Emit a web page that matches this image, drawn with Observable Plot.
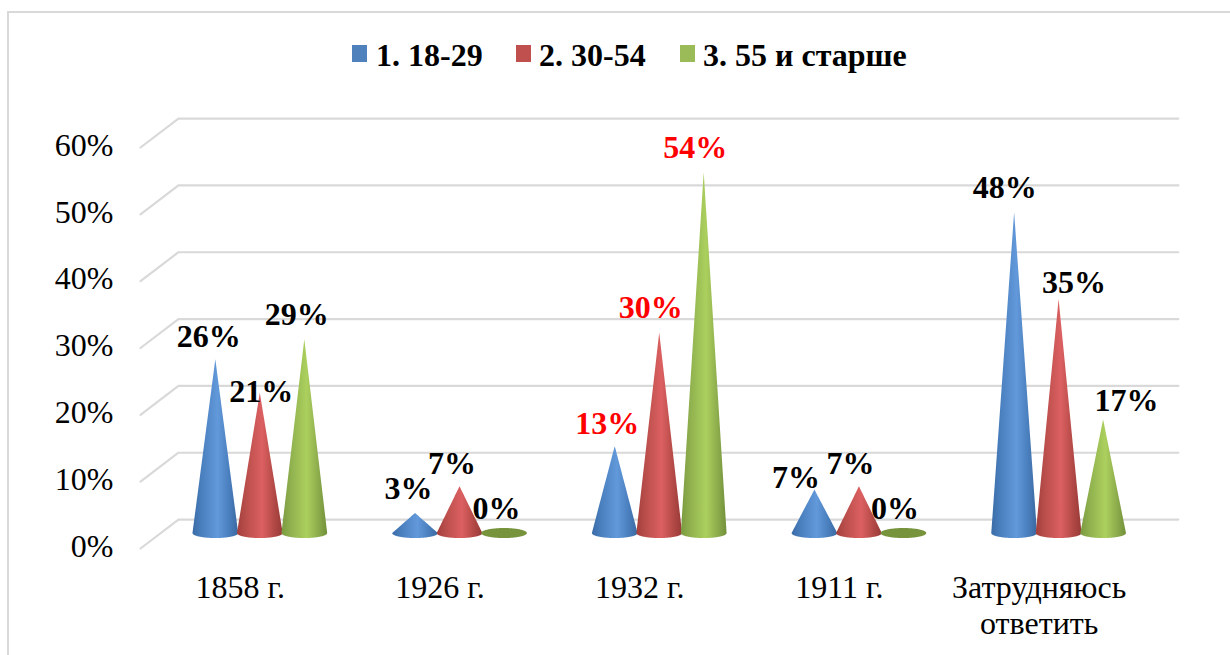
<!DOCTYPE html>
<html><head><meta charset="utf-8">
<script src="https://cdn.jsdelivr.net/npm/d3@7"></script>
<script src="https://cdn.jsdelivr.net/npm/@observablehq/plot@0.6"></script>
<style>
html,body{margin:0;padding:0;background:#fff}
#wrap{position:relative;width:1230px;height:655px;overflow:hidden;font-family:"Liberation Serif",serif}
#frame{position:absolute;left:7px;top:11px;right:-10px;bottom:-10px;border:2px solid #d9d9d9}
#legend{position:absolute;left:0;top:0;width:1230px;height:90px}
#legend span{position:absolute;top:36px;font-weight:bold;font-size:32px;line-height:38px;color:#000;white-space:nowrap}
#legend i{position:absolute;top:45px;width:15px;height:17px}
#chart{position:absolute;left:0;top:90px}
svg{display:block}
</style></head>
<body><div id="wrap"><div id="frame"></div><div id="legend"></div><div id="chart"></div></div>
<script>
const categories = ["1858 г.","1926 г.","1932 г.","1911 г.","Затрудняюсь\nответить"];
const seriesNames = ["1. 18-29","2. 30-54","3. 55 и старше"];
const young  = [26,3,13,6.5,48];
const middle = [21,7,30,7,35];
const older  = [29,0,54,0,17];
const yTicks = [0,10,20,30,40,50,60];
const redLabels = ["1932 г."];

// Presentation only
const seriesValues=[young,middle,older];
const gid=["b","r","g"];
const swatch=["#4f81bd","#c0504d","#9bbb59"];
const flatColor="#77933c";
const legendSwatchX=[352,516,680], legendTextX=[376,539,703];
// label nudges in px from the cone tip [series][category]
const nudgeX=[[-7,-7,-8,-19,-10],[1,-8,-9,-9,15],[-8,-8,-9,-9,23]];
const nudgeY=[[-23,-25,-23,-12,-25],[-1,-23,-25,-23,-17],[-25,-25,-25,-25,-19]];

const depthX=0.19, depthY=4.33;      // back wall offset of the 3-D floor
const baseLift=2.24, rx=0.1145, ry=0.75, gap=0.2228, groupC=0.6;

const legend=document.getElementById("legend");
seriesNames.forEach((n,i)=>{
  const s=document.createElement("i");s.style.left=legendSwatchX[i]+"px";s.style.background=swatch[i];legend.append(s);
  const t=document.createElement("span");t.textContent=n;t.style.left=legendTextX[i]+"px";legend.append(t);
});

const grid=yTicks.flatMap(v=>[
  {v,x:0,y:v},{v,x:depthX,y:v+depthY},{v,x:5.197,y:v+depthY}]);

const sweep=d3.range(-40,41).map(k=>Math.sin(k/40*Math.PI/2));
const cones=[];
seriesValues.forEach((vals,s)=>vals.forEach((v,c)=>{
  const cx=c+groupC+(s-1)*gap;
  sweep.forEach(t=>{
    const e=Math.sqrt(Math.max(0,1-t*t))*ry;
    cones.push({s,c,v,x:cx+t*rx,
      y1:baseLift-e,
      y2:v>0?baseLift+v*(1-Math.abs(t)):baseLift+e});
  });
}));
const solid=s=>cones.filter(d=>d.s===s&&d.v>0);
const flat=cones.filter(d=>d.v===0);

const defs=()=>{
  const ns="http://www.w3.org/2000/svg";
  const d=document.createElementNS(ns,"defs");
  const stops={
    b:[[0,"#3a6ca6"],[.2,"#4a7fbe"],[.55,"#6299da"],[.8,"#4a7fbe"],[1,"#3a68a0"]],
    r:[[0,"#a33f3c"],[.2,"#b94e4b"],[.55,"#dc6061"],[.8,"#b44a47"],[1,"#973a37"]],
    g:[[0,"#7a9940"],[.2,"#8fb04e"],[.55,"#acd05e"],[.8,"#8dac4c"],[1,"#72903a"]]};
  for(const k of gid){
    const g=document.createElementNS(ns,"linearGradient");g.setAttribute("id","cone-"+k);
    stops[k].forEach(([o,c])=>{
      const st=document.createElementNS(ns,"stop");st.setAttribute("offset",o);st.setAttribute("stop-color",c);g.append(st);
    });
    d.append(g);
  }
  return d;
};

const labelMarks=seriesValues.flatMap((vals,s)=>vals.map((v,c)=>
  Plot.text([{x:c+groupC+(s-1)*gap,y:v+baseLift}],{
    x:"x",y:"y",text:()=>Math.round(v+.001)+"%",dx:nudgeX[s][c],dy:nudgeY[s][c],
    fontWeight:"bold",fontSize:32,
    fill:redLabels.includes(categories[c])?"#ff0000":"#000000"})));

const plot=Plot.plot({
  width:1230,height:565,margin:0,
  style:{fontFamily:"'Liberation Serif',serif",background:"transparent",overflow:"visible"},
  x:{type:"linear",domain:[0,5],range:[140,1138.5]},
  y:{type:"linear",domain:[0,60],range:[458,57]},
  marks:[
    defs,
    Plot.line(grid,{x:"x",y:"y",z:"v",stroke:"#d9d9d9",strokeWidth:2.2}),
    ...[0,1,2].map(s=>Plot.areaY(solid(s),{x:"x",y1:"y1",y2:"y2",z:"c",fill:`url(#cone-${gid[s]})`})),
    Plot.areaY(flat,{x:"x",y1:"y1",y2:"y2",z:"c",fill:flatColor}),
    Plot.axisY({ticks:yTicks,tickSize:0,tickPadding:0,anchor:"left",label:null,
      tickFormat:d=>d+"%",fontSize:32,x:0,dx:-27,dy:-2,fill:"#000"}),
    Plot.axisX({ticks:categories.map((_,i)=>i+.5),tickSize:0,anchor:"bottom",label:null,
      tickFormat:d=>categories[Math.floor(d)],fontSize:32,lineHeight:1.15,y:0,dy:14,fill:"#000",textAnchor:"middle",lineAnchor:"top"}),
    ...labelMarks
  ]
});
document.getElementById("chart").append(plot);
</script></body></html>
